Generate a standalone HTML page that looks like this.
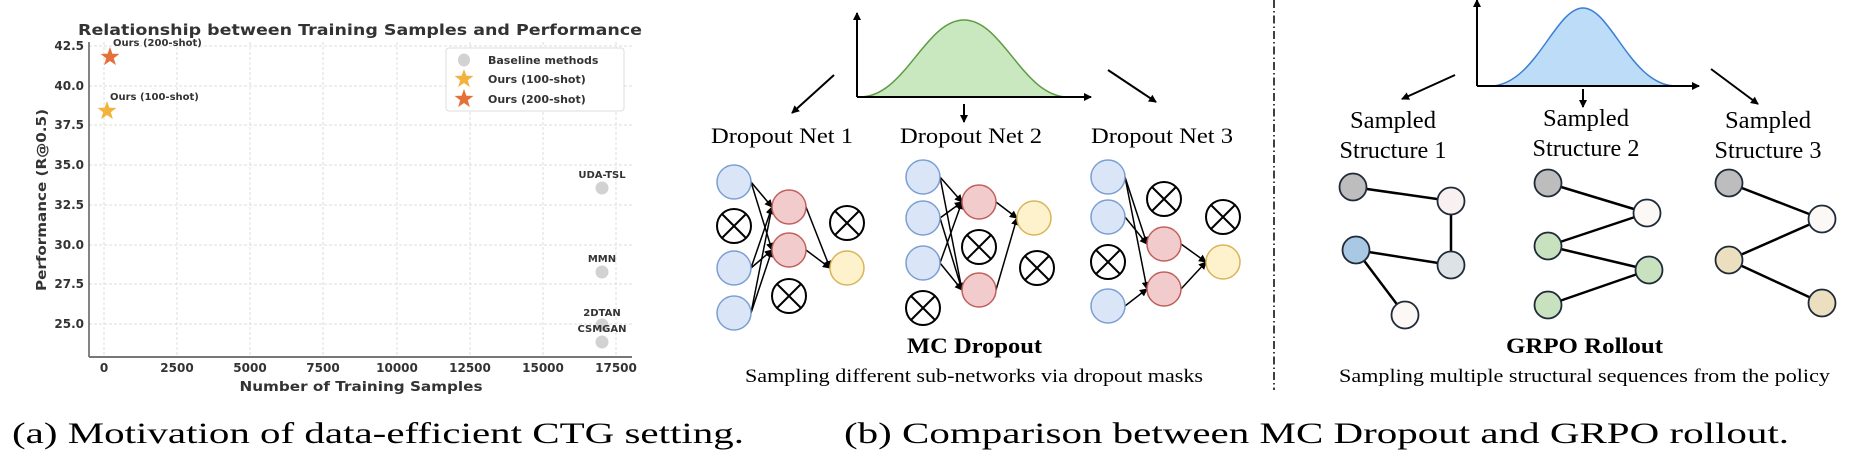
<!DOCTYPE html>
<html><head><meta charset="utf-8"><style>
html,body{margin:0;padding:0;background:#fff;}
svg{display:block;}
.c{font-family:"DejaVu Sans","Liberation Sans",sans-serif;font-weight:bold;fill:#333;}
.t{font-family:"Liberation Serif",serif;fill:#000;}
</style></head><body>
<svg width="1850" height="462" viewBox="0 0 1850 462" xmlns="http://www.w3.org/2000/svg">
<defs>
<marker id="ah" markerWidth="8" markerHeight="8" refX="7" refY="4" orient="auto" markerUnits="userSpaceOnUse"><path d="M0,0 L8,4 L0,8 Z" fill="#000"/></marker>
<marker id="ah2" markerWidth="10" markerHeight="10" refX="9" refY="5" orient="auto" markerUnits="userSpaceOnUse"><path d="M0,0 L10,5 L0,10 Z" fill="#000"/></marker>
</defs>

<!-- ===== Chart ===== -->
<text class="c" x="360" y="35" font-size="15" text-anchor="middle" textLength="564" lengthAdjust="spacingAndGlyphs">Relationship between Training Samples and Performance</text>
<g stroke="#ddd" stroke-width="1" stroke-dasharray="3,2">
<line x1="89" y1="46" x2="632" y2="46"/><line x1="89" y1="86" x2="632" y2="86"/><line x1="89" y1="125" x2="632" y2="125"/><line x1="89" y1="165" x2="632" y2="165"/><line x1="89" y1="205" x2="632" y2="205"/><line x1="89" y1="245" x2="632" y2="245"/><line x1="89" y1="284" x2="632" y2="284"/><line x1="89" y1="324" x2="632" y2="324"/>
<line x1="104" y1="42" x2="104" y2="357"/><line x1="177" y1="42" x2="177" y2="357"/><line x1="250" y1="42" x2="250" y2="357"/><line x1="323" y1="42" x2="323" y2="357"/><line x1="397" y1="42" x2="397" y2="357"/><line x1="470" y1="42" x2="470" y2="357"/><line x1="543" y1="42" x2="543" y2="357"/><line x1="616" y1="42" x2="616" y2="357"/>
</g>
<line x1="89" y1="42" x2="89" y2="357" stroke="#333" stroke-width="1.2"/>
<line x1="89" y1="357" x2="632" y2="357" stroke="#777" stroke-width="2"/>
<g class="c" font-size="12" text-anchor="end">
<text x="84" y="50">42.5</text><text x="84" y="90">40.0</text><text x="84" y="129">37.5</text><text x="84" y="169">35.0</text><text x="84" y="209">32.5</text><text x="84" y="249">30.0</text><text x="84" y="288">27.5</text><text x="84" y="328">25.0</text>
</g>
<g class="c" font-size="12" text-anchor="middle">
<text x="104" y="372">0</text><text x="177" y="372">2500</text><text x="250" y="372">5000</text><text x="323" y="372">7500</text><text x="397" y="372">10000</text><text x="470" y="372">12500</text><text x="543" y="372">15000</text><text x="616" y="372">17500</text>
</g>
<text class="c" x="361" y="391" font-size="13" text-anchor="middle" textLength="243" lengthAdjust="spacingAndGlyphs">Number of Training Samples</text>
<text class="c" transform="translate(46,200) rotate(-90)" font-size="13" text-anchor="middle" textLength="182" lengthAdjust="spacingAndGlyphs">Performance (R@0.5)</text>
<!-- points -->
<g fill="#d2d2d2"><ellipse cx="602" cy="188" rx="6.5" ry="6.5"/><ellipse cx="602" cy="272" rx="6.5" ry="6.5"/><ellipse cx="602" cy="325" rx="6.5" ry="6.5"/><ellipse cx="602" cy="342" rx="6.5" ry="6.5"/></g>
<g class="c" font-size="10" text-anchor="middle">
<text x="602" y="178">UDA-TSL</text><text x="602" y="262">MMN</text><text x="602" y="316">2DTAN</text><text x="602" y="332">CSMGAN</text>
</g>
<polygon transform="translate(110,57)" points="0,-10 2.4,-3.2 9.5,-3.1 3.8,1.2 5.9,8.1 0,4 -5.9,8.1 -3.8,1.2 -9.5,-3.1 -2.4,-3.2" fill="#e5703a"/>
<polygon transform="translate(107,111)" points="0,-10 2.4,-3.2 9.5,-3.1 3.8,1.2 5.9,8.1 0,4 -5.9,8.1 -3.8,1.2 -9.5,-3.1 -2.4,-3.2" fill="#f3b23c"/>
<text class="c" x="113" y="46" font-size="10">Ours (200-shot)</text>
<text class="c" x="110" y="100" font-size="10">Ours (100-shot)</text>
<!-- legend -->
<rect x="446" y="48" width="178" height="63" rx="3" fill="#fff" stroke="#ddd"/>
<ellipse cx="464" cy="60" rx="6" ry="6.5" fill="#d2d2d2"/>
<polygon transform="translate(464,79)" points="0,-10 2.4,-3.2 9.5,-3.1 3.8,1.2 5.9,8.1 0,4 -5.9,8.1 -3.8,1.2 -9.5,-3.1 -2.4,-3.2" fill="#f3b23c"/>
<polygon transform="translate(464,99)" points="0,-10 2.4,-3.2 9.5,-3.1 3.8,1.2 5.9,8.1 0,4 -5.9,8.1 -3.8,1.2 -9.5,-3.1 -2.4,-3.2" fill="#e5703a"/>
<g class="c" font-size="11"><text x="488" y="64">Baseline methods</text><text x="488" y="83">Ours (100-shot)</text><text x="488" y="103">Ours (200-shot)</text></g>

<!-- ===== MC Dropout ===== -->
<path d="M860,97 C905,97 925,20 964,20 C1003,20 1023,97 1068,97 Z" fill="#c9e8c0" stroke="#5c9c42" stroke-width="1.5"/>
<line x1="857" y1="97" x2="857" y2="13" stroke="#000" stroke-width="2" marker-end="url(#ah)"/>
<line x1="857" y1="97" x2="1091" y2="97" stroke="#000" stroke-width="2" marker-end="url(#ah)"/>
<g stroke="#000" stroke-width="2">
<line x1="834" y1="75" x2="792" y2="113" marker-end="url(#ah)"/>
<line x1="964" y1="104" x2="964" y2="122" marker-end="url(#ah)"/>
<line x1="1108" y1="70" x2="1156" y2="102" marker-end="url(#ah)"/>
</g>
<g class="t" font-size="22">
<text x="711" y="143" textLength="142" lengthAdjust="spacingAndGlyphs">Dropout Net 1</text>
<text x="900" y="143" textLength="142" lengthAdjust="spacingAndGlyphs">Dropout Net 2</text>
<text x="1091" y="143" textLength="142" lengthAdjust="spacingAndGlyphs">Dropout Net 3</text>
</g>
<!-- edges -->
<g stroke="#000" stroke-width="1.5" marker-end="url(#ah)">
<line x1="751" y1="182" x2="772" y2="207"/><line x1="751" y1="182" x2="772" y2="250"/><line x1="751" y1="268" x2="772" y2="207"/><line x1="751" y1="268" x2="772" y2="250"/><line x1="751" y1="313" x2="772" y2="207"/><line x1="751" y1="313" x2="772" y2="250"/><line x1="806" y1="207" x2="830" y2="268"/><line x1="806" y1="250" x2="830" y2="268"/>
<line x1="940" y1="177" x2="962" y2="202"/><line x1="940" y1="177" x2="962" y2="290"/><line x1="940" y1="218" x2="962" y2="202"/><line x1="940" y1="218" x2="962" y2="290"/><line x1="940" y1="263" x2="962" y2="202"/><line x1="940" y1="263" x2="962" y2="290"/><line x1="996" y1="202" x2="1017" y2="218"/><line x1="996" y1="290" x2="1017" y2="218"/>
<line x1="1125" y1="177" x2="1147" y2="244"/><line x1="1125" y1="177" x2="1147" y2="289"/><line x1="1125" y1="217" x2="1147" y2="244"/><line x1="1125" y1="306" x2="1147" y2="289"/><line x1="1181" y1="244" x2="1206" y2="262"/><line x1="1181" y1="289" x2="1206" y2="262"/>
</g>
<g fill="#dae6f8" stroke="#7c9fd2" stroke-width="1.5">
<circle cx="734" cy="182" r="17"/><circle cx="734" cy="268" r="17"/><circle cx="734" cy="313" r="17"/>
<circle cx="923" cy="177" r="17"/><circle cx="923" cy="218" r="17"/><circle cx="923" cy="263" r="17"/>
<circle cx="1108" cy="177" r="17"/><circle cx="1108" cy="217" r="17"/><circle cx="1108" cy="306" r="17"/>
</g>
<g fill="#f2cccc" stroke="#c0605c" stroke-width="1.5">
<circle cx="789" cy="207" r="17"/><circle cx="789" cy="250" r="17"/>
<circle cx="979" cy="202" r="17"/><circle cx="979" cy="290" r="17"/>
<circle cx="1164" cy="244" r="17"/><circle cx="1164" cy="289" r="17"/>
</g>
<g fill="#fdf2cc" stroke="#d9b55a" stroke-width="1.5">
<circle cx="847" cy="268" r="17"/><circle cx="1034" cy="218" r="17"/><circle cx="1223" cy="262" r="17"/>
</g>
<g fill="#fff" stroke="#000" stroke-width="2">
<g transform="translate(734,226)"><circle r="17"/><path d="M-12,-12L12,12M12,-12L-12,12"/></g>
<g transform="translate(847,223)"><circle r="17"/><path d="M-12,-12L12,12M12,-12L-12,12"/></g>
<g transform="translate(789,296)"><circle r="17"/><path d="M-12,-12L12,12M12,-12L-12,12"/></g>
<g transform="translate(923,308)"><circle r="17"/><path d="M-12,-12L12,12M12,-12L-12,12"/></g>
<g transform="translate(979,247)"><circle r="17"/><path d="M-12,-12L12,12M12,-12L-12,12"/></g>
<g transform="translate(1037,268)"><circle r="17"/><path d="M-12,-12L12,12M12,-12L-12,12"/></g>
<g transform="translate(1108,262)"><circle r="17"/><path d="M-12,-12L12,12M12,-12L-12,12"/></g>
<g transform="translate(1164,199)"><circle r="17"/><path d="M-12,-12L12,12M12,-12L-12,12"/></g>
<g transform="translate(1223,217)"><circle r="17"/><path d="M-12,-12L12,12M12,-12L-12,12"/></g>
</g>
<text class="t" x="907" y="353" font-size="22" font-weight="bold" textLength="135" lengthAdjust="spacingAndGlyphs">MC Dropout</text>
<text class="t" x="745" y="382" font-size="19" textLength="458" lengthAdjust="spacingAndGlyphs">Sampling different sub-networks via dropout masks</text>

<!-- divider -->
<line x1="1274" y1="0" x2="1274" y2="390" stroke="#000" stroke-width="1.5" stroke-dasharray="8,3,1.5,3"/>

<!-- ===== GRPO ===== -->
<path d="M1490,86 C1535,86 1555,8 1583,8 C1611,8 1631,86 1676,86 Z" fill="#bcdcf8" stroke="#3a7fd5" stroke-width="1.5"/>
<line x1="1477" y1="86" x2="1477" y2="0" stroke="#000" stroke-width="2" marker-end="url(#ah)"/>
<line x1="1477" y1="86" x2="1699" y2="86" stroke="#000" stroke-width="2" marker-end="url(#ah)"/>
<g stroke="#000" stroke-width="2">
<line x1="1455" y1="75" x2="1402" y2="99" marker-end="url(#ah)"/>
<line x1="1583" y1="89" x2="1583" y2="107" marker-end="url(#ah)"/>
<line x1="1711" y1="69" x2="1758" y2="104" marker-end="url(#ah)"/>
</g>
<g class="t" font-size="24" text-anchor="middle">
<text x="1393" y="128" textLength="86" lengthAdjust="spacingAndGlyphs">Sampled</text>
<text x="1393" y="158" textLength="107" lengthAdjust="spacingAndGlyphs">Structure 1</text>
<text x="1586" y="126" textLength="86" lengthAdjust="spacingAndGlyphs">Sampled</text>
<text x="1586" y="156" textLength="107" lengthAdjust="spacingAndGlyphs">Structure 2</text>
<text x="1768" y="128" textLength="86" lengthAdjust="spacingAndGlyphs">Sampled</text>
<text x="1768" y="158" textLength="107" lengthAdjust="spacingAndGlyphs">Structure 3</text>
</g>
<g stroke="#000" stroke-width="2.5">
<line x1="1353" y1="187" x2="1451" y2="201"/><line x1="1451" y1="201" x2="1451" y2="265"/><line x1="1356" y1="250" x2="1451" y2="265"/><line x1="1356" y1="250" x2="1405" y2="315"/>
<line x1="1548" y1="183" x2="1647" y2="213"/><line x1="1647" y1="213" x2="1548" y2="246"/><line x1="1548" y1="246" x2="1649" y2="270"/><line x1="1649" y1="270" x2="1548" y2="305"/>
<line x1="1729" y1="183" x2="1822" y2="219"/><line x1="1822" y1="219" x2="1729" y2="260"/><line x1="1729" y1="260" x2="1822" y2="303"/>
</g>
<g stroke="#1e2a38" stroke-width="1.8">
<circle cx="1353" cy="187" r="13.5" fill="#bdbdbd"/><circle cx="1451" cy="201" r="13.5" fill="#f9f1f0"/><circle cx="1356" cy="250" r="13.5" fill="#a9c8e3"/><circle cx="1451" cy="265" r="13.5" fill="#dde2e6"/><circle cx="1405" cy="315" r="13.5" fill="#fbf8f6"/>
<circle cx="1548" cy="183" r="13.5" fill="#bdbdbd"/><circle cx="1647" cy="213" r="13.5" fill="#fbf8f5"/><circle cx="1548" cy="246" r="13.5" fill="#c8e2c0"/><circle cx="1649" cy="270" r="13.5" fill="#c8e2c0"/><circle cx="1548" cy="305" r="13.5" fill="#c8e2c0"/>
<circle cx="1729" cy="183" r="13.5" fill="#bdbdbd"/><circle cx="1822" cy="219" r="13.5" fill="#fbf8f5"/><circle cx="1729" cy="260" r="13.5" fill="#ebdfc0"/><circle cx="1822" cy="303" r="13.5" fill="#ebdfc0"/>
</g>
<text class="t" x="1506" y="353" font-size="22" font-weight="bold" textLength="157" lengthAdjust="spacingAndGlyphs">GRPO Rollout</text>
<text class="t" x="1339" y="382" font-size="19" textLength="491" lengthAdjust="spacingAndGlyphs">Sampling multiple structural sequences from the policy</text>

<!-- captions -->
<text class="t" x="12" y="443" font-size="30" textLength="732" lengthAdjust="spacingAndGlyphs">(a) Motivation of data-efficient CTG setting.</text>
<text class="t" x="844" y="443" font-size="30" textLength="945" lengthAdjust="spacingAndGlyphs">(b) Comparison between MC Dropout and GRPO rollout.</text>
</svg>
</body></html>
